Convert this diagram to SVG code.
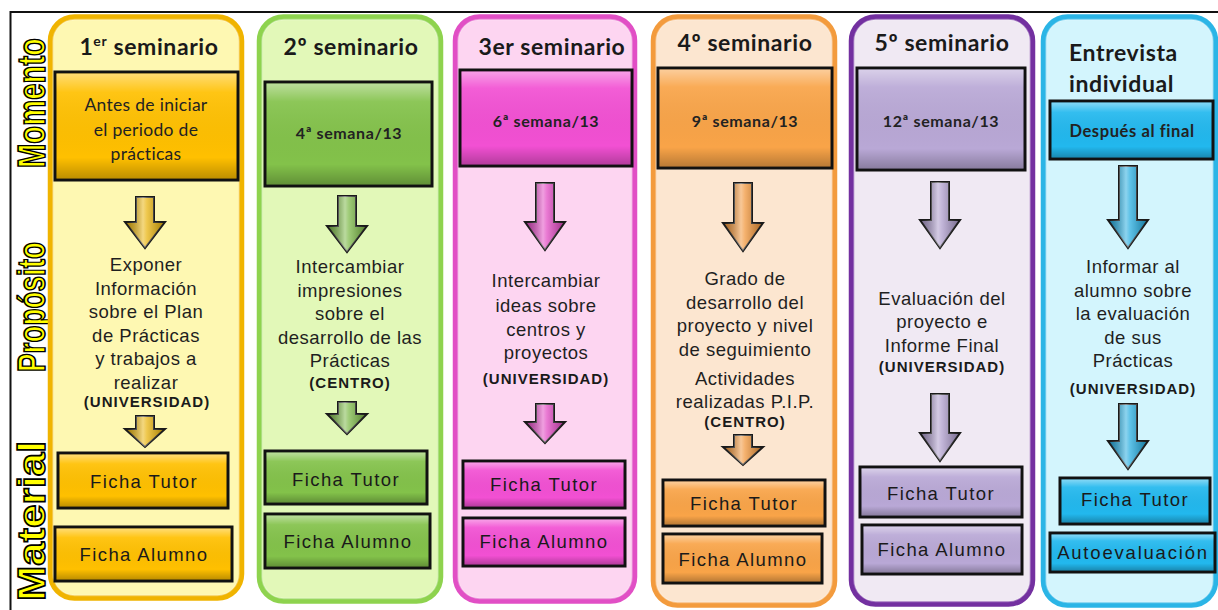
<svg xmlns="http://www.w3.org/2000/svg" width="1218" height="610" viewBox="0 0 1218 610">
<style>
.hdr{font-family:Lato,"Open Sans","Liberation Sans",sans-serif;font-weight:700;font-size:23px;fill:#1a1a1a;text-anchor:middle;letter-spacing:0.6px}
.bt{font-family:Lato,"Open Sans",sans-serif;font-size:17.5px;fill:#222;text-anchor:middle;letter-spacing:0.3px}
.wk{font-family:Lato,"Open Sans",sans-serif;font-weight:700;font-size:16px;fill:#222;text-anchor:middle;letter-spacing:0.6px}
.pur{font-family:"Liberation Sans",Arial,sans-serif;font-size:18.5px;fill:#1f1f1f;text-anchor:middle;letter-spacing:0.5px}
.org{font-family:"Liberation Sans",Arial,sans-serif;font-weight:700;font-size:15px;fill:#1a1a1a;text-anchor:middle;letter-spacing:1px}
.mat{font-family:"Liberation Sans",Arial,sans-serif;font-size:18.5px;fill:#1a1a1a;text-anchor:middle;letter-spacing:1.4px}
.side{font-family:"Liberation Sans",Arial,sans-serif;font-weight:700;font-size:38px;fill:#ffff00;stroke:#000;stroke-width:1.6}
.col{stroke-width:5.5}
.colhl{fill:none;stroke:#fff;stroke-opacity:0.35;stroke-width:1.5}
.bx{stroke:#111;stroke-width:3}
.bev{fill:url(#bev)}
.arr{stroke:#1a1a1a;stroke-width:2}
.ahl{fill:url(#ahl)}
</style>
<defs>
<linearGradient id="bev" x1="0" y1="0" x2="0" y2="1">
<stop offset="0" stop-color="#fff" stop-opacity="0.45"/>
<stop offset="0.18" stop-color="#fff" stop-opacity="0.08"/>
<stop offset="0.8" stop-color="#000" stop-opacity="0"/>
<stop offset="1" stop-color="#000" stop-opacity="0.25"/>
</linearGradient>
<linearGradient id="ahl" x1="0" y1="0" x2="1" y2="0">
<stop offset="0" stop-color="#000" stop-opacity="0.3"/>
<stop offset="0.45" stop-color="#fff" stop-opacity="0.5"/>
<stop offset="0.55" stop-color="#fff" stop-opacity="0.3"/>
<stop offset="1" stop-color="#000" stop-opacity="0.3"/>
</linearGradient>
</defs>
<rect x="0" y="0" width="1218" height="610" fill="#fff"/>
<rect x="10.5" y="12" width="1220" height="620" fill="none" stroke="#111" stroke-width="2"/>

<g id="labels">
<text class="side" transform="translate(45,168) rotate(-90)" textLength="130" lengthAdjust="spacingAndGlyphs">Momento</text>
<text class="side" transform="translate(45,372) rotate(-90)" textLength="130" lengthAdjust="spacingAndGlyphs">Propósito</text>
<text class="side" transform="translate(45,601) rotate(-90)" textLength="160" lengthAdjust="spacingAndGlyphs">Material</text>
</g>

<g id="col1">
<rect class="col" x="50.5" y="17" width="191" height="581" rx="24" fill="#fef8b2" stroke="#f0b400"/>
<rect class="colhl" x="53" y="19.5" width="186" height="576" rx="22"/>
<text class="hdr" x="149" y="55">1<tspan font-size="14" dy="-9">er</tspan><tspan dy="9"> seminario</tspan></text>
<rect class="bx" x="55" y="72" width="183" height="108" fill="#ffc000"/>
<rect class="bev" x="56.5" y="73.5" width="180" height="105"/>
<text class="bt" x="146" y="111">Antes de iniciar</text>
<text class="bt" x="146" y="136">el periodo de</text>
<text class="bt" x="146" y="160">prácticas</text>
<text class="pur" x="146" y="271">Exponer</text>
<text class="pur" x="146" y="295">Información</text>
<text class="pur" x="146" y="318">sobre el Plan</text>
<text class="pur" x="146" y="342">de Prácticas</text>
<text class="pur" x="146" y="365">y trabajos a</text>
<text class="pur" x="146" y="389">realizar</text>
<text class="org" x="147" y="407">(UNIVERSIDAD)</text>
<rect class="bx" x="58" y="453" width="170" height="55" fill="#ffc000"/>
<rect class="bev" x="59.5" y="454.5" width="167" height="52"/>
<text class="mat" x="144" y="488">Ficha Tutor</text>
<rect class="bx" x="55" y="527" width="177" height="54" fill="#ffc000"/>
<rect class="bev" x="56.5" y="528.5" width="174" height="51"/>
<text class="mat" x="144" y="561">Ficha Alumno</text>
</g>

<g id="col2">
<rect class="col" x="259.5" y="17" width="181" height="584" rx="24" fill="#e2f8b8" stroke="#8ed34e"/>
<rect class="colhl" x="262" y="19.5" width="176" height="579" rx="22"/>
<text class="hdr" x="351" y="55">2º seminario</text>
<rect class="bx" x="265" y="82" width="167" height="104" fill="#83c24a"/>
<rect class="bev" x="266.5" y="83.5" width="164" height="101"/>
<text class="wk" x="349" y="139">4ª semana/13</text>
<text class="pur" x="350" y="273">Intercambiar</text>
<text class="pur" x="350" y="297">impresiones</text>
<text class="pur" x="350" y="320">sobre el</text>
<text class="pur" x="350" y="344">desarrollo de las</text>
<text class="pur" x="350" y="367">Prácticas</text>
<text class="org" x="350" y="388">(CENTRO)</text>
<rect class="bx" x="265" y="451" width="162" height="53" fill="#83c24a"/>
<rect class="bev" x="266.5" y="452.5" width="159" height="50"/>
<text class="mat" x="346" y="486">Ficha Tutor</text>
<rect class="bx" x="265" y="514" width="165" height="54" fill="#83c24a"/>
<rect class="bev" x="266.5" y="515.5" width="162" height="51"/>
<text class="mat" x="348" y="548">Ficha Alumno</text>
</g>

<g id="col3">
<rect class="col" x="455.5" y="17" width="179" height="584" rx="24" fill="#fdd5f1" stroke="#e14fc5"/>
<rect class="colhl" x="458" y="19.5" width="174" height="579" rx="22"/>
<text class="hdr" x="552" y="55">3er seminario</text>
<rect class="bx" x="460" y="70" width="172" height="96" fill="#f250d3"/>
<rect class="bev" x="461.5" y="71.5" width="169" height="93"/>
<text class="wk" x="546" y="127">6ª semana/13</text>
<text class="pur" x="546" y="287">Intercambiar</text>
<text class="pur" x="546" y="312">ideas sobre</text>
<text class="pur" x="546" y="336">centros y</text>
<text class="pur" x="546" y="359">proyectos</text>
<text class="org" x="546" y="384">(UNIVERSIDAD)</text>
<rect class="bx" x="463" y="461" width="162" height="47" fill="#f250d3"/>
<rect class="bev" x="464.5" y="462.5" width="159" height="44"/>
<text class="mat" x="544" y="491">Ficha Tutor</text>
<rect class="bx" x="463" y="518" width="162" height="48" fill="#f250d3"/>
<rect class="bev" x="464.5" y="519.5" width="159" height="45"/>
<text class="mat" x="544" y="548">Ficha Alumno</text>
</g>

<g id="col4">
<rect class="col" x="653.5" y="17" width="181" height="588" rx="24" fill="#fce6d0" stroke="#f39b3d"/>
<rect class="colhl" x="656" y="19.5" width="176" height="583" rx="22"/>
<text class="hdr" x="745" y="51">4º seminario</text>
<rect class="bx" x="658" y="68" width="174" height="100" fill="#f9a448"/>
<rect class="bev" x="659.5" y="69.5" width="171" height="97"/>
<text class="wk" x="745" y="127">9ª semana/13</text>
<text class="pur" x="745" y="285">Grado de</text>
<text class="pur" x="745" y="309">desarrollo del</text>
<text class="pur" x="745" y="332">proyecto y nivel</text>
<text class="pur" x="745" y="356">de seguimiento</text>
<text class="pur" x="745" y="385">Actividades</text>
<text class="pur" x="745" y="408">realizadas P.I.P.</text>
<text class="org" x="745" y="427">(CENTRO)</text>
<rect class="bx" x="663" y="480" width="162" height="46" fill="#f9a448"/>
<rect class="bev" x="664.5" y="481.5" width="159" height="43"/>
<text class="mat" x="744" y="510">Ficha Tutor</text>
<rect class="bx" x="663" y="534" width="159" height="49" fill="#f9a448"/>
<rect class="bev" x="664.5" y="535.5" width="156" height="46"/>
<text class="mat" x="743" y="566">Ficha Alumno</text>
</g>

<g id="col5">
<rect class="col" x="851.5" y="17" width="181" height="587" rx="24" fill="#f0e9f3" stroke="#7330a0"/>
<rect class="colhl" x="854" y="19.5" width="176" height="582" rx="22"/>
<text class="hdr" x="942" y="51">5º seminario</text>
<rect class="bx" x="857" y="68" width="168" height="102" fill="#b9a8d6"/>
<rect class="bev" x="858.5" y="69.5" width="165" height="99"/>
<text class="wk" x="941" y="127">12ª semana/13</text>
<text class="pur" x="942" y="305">Evaluación del</text>
<text class="pur" x="942" y="328">proyecto e</text>
<text class="pur" x="942" y="352">Informe Final</text>
<text class="org" x="942" y="372">(UNIVERSIDAD)</text>
<rect class="bx" x="860" y="467" width="162" height="50" fill="#b9a8d6"/>
<rect class="bev" x="861.5" y="468.5" width="159" height="47"/>
<text class="mat" x="941" y="500">Ficha Tutor</text>
<rect class="bx" x="862" y="525" width="160" height="49" fill="#b9a8d6"/>
<rect class="bev" x="863.5" y="526.5" width="157" height="46"/>
<text class="mat" x="942" y="556">Ficha Alumno</text>
</g>

<g id="col6">
<rect class="col" x="1043.5" y="17" width="172" height="588" rx="24" fill="#d3f5fd" stroke="#2bb5e6"/>
<rect class="colhl" x="1046" y="19.5" width="167" height="583" rx="22"/>
<text class="hdr" x="1069" y="61" style="text-anchor:start">Entrevista</text>
<text class="hdr" x="1069" y="92" style="text-anchor:start">individual</text>
<rect class="bx" x="1050" y="101" width="163" height="58" fill="#22b8ee"/>
<rect class="bev" x="1051.5" y="102.5" width="160" height="55"/>
<text class="wk" x="1132" y="137" style="font-size:16.5px">Después al final</text>
<text class="pur" x="1133" y="273">Informar al</text>
<text class="pur" x="1133" y="297">alumno sobre</text>
<text class="pur" x="1133" y="320">la evaluación</text>
<text class="pur" x="1133" y="344">de sus</text>
<text class="pur" x="1133" y="367">Prácticas</text>
<text class="org" x="1133" y="394">(UNIVERSIDAD)</text>
<rect class="bx" x="1060" y="478" width="150" height="46" fill="#22b8ee"/>
<rect class="bev" x="1061.5" y="479.5" width="147" height="43"/>
<text class="mat" x="1135" y="506">Ficha Tutor</text>
<rect class="bx" x="1050" y="533" width="165" height="39" fill="#22b8ee"/>
<rect class="bev" x="1051.5" y="534.5" width="162" height="36"/>
<text class="mat" x="1133" y="559" style="letter-spacing:1.8px">Autoevaluación</text>
</g>

<g id="connectors">
<path class="arr" fill="#e8b000" d="M136,197H154V222H165L145,248L125,222H136Z"/>
<path class="ahl" d="M136,197H154V222H165L145,248L125,222H136Z"/>
<path class="arr" fill="#e8b000" d="M136,416H154V429H165L145,447L125,429H136Z"/>
<path class="ahl" d="M136,416H154V429H165L145,447L125,429H136Z"/>

<path class="arr" fill="#76b53e" d="M338,196H356V226H367L347,252L327,226H338Z"/>
<path class="ahl" d="M338,196H356V226H367L347,252L327,226H338Z"/>
<path class="arr" fill="#76b53e" d="M338,402H356V414H367L347,434L327,414H338Z"/>
<path class="ahl" d="M338,402H356V414H367L347,434L327,414H338Z"/>

<path class="arr" fill="#e040c0" d="M536,183H554V222H565L545,250L525,222H536Z"/>
<path class="ahl" d="M536,183H554V222H565L545,250L525,222H536Z"/>
<path class="arr" fill="#e040c0" d="M536,404H554V422H565L545,443L525,422H536Z"/>
<path class="ahl" d="M536,404H554V422H565L545,443L525,422H536Z"/>

<path class="arr" fill="#f09030" d="M734,183H752V223H763L743,251L723,223H734Z"/>
<path class="ahl" d="M734,183H752V223H763L743,251L723,223H734Z"/>
<path class="arr" fill="#f09030" d="M734,435H752V447H763L743,465L723,447H734Z"/>
<path class="ahl" d="M734,435H752V447H763L743,465L723,447H734Z"/>

<path class="arr" fill="#a896c8" d="M931,182H949V220H960L940,248L920,220H931Z"/>
<path class="ahl" d="M931,182H949V220H960L940,248L920,220H931Z"/>
<path class="arr" fill="#a896c8" d="M931,394H949V433H960L940,461L920,433H931Z"/>
<path class="ahl" d="M931,394H949V433H960L940,461L920,433H931Z"/>

<path class="arr" fill="#1aa8de" d="M1119,166H1137V220H1148L1128,248L1108,220H1119Z"/>
<path class="ahl" d="M1119,166H1137V220H1148L1128,248L1108,220H1119Z"/>
<path class="arr" fill="#1aa8de" d="M1119,404H1137V441H1148L1128,469L1108,441H1119Z"/>
<path class="ahl" d="M1119,404H1137V441H1148L1128,469L1108,441H1119Z"/>
</g>
</svg>
